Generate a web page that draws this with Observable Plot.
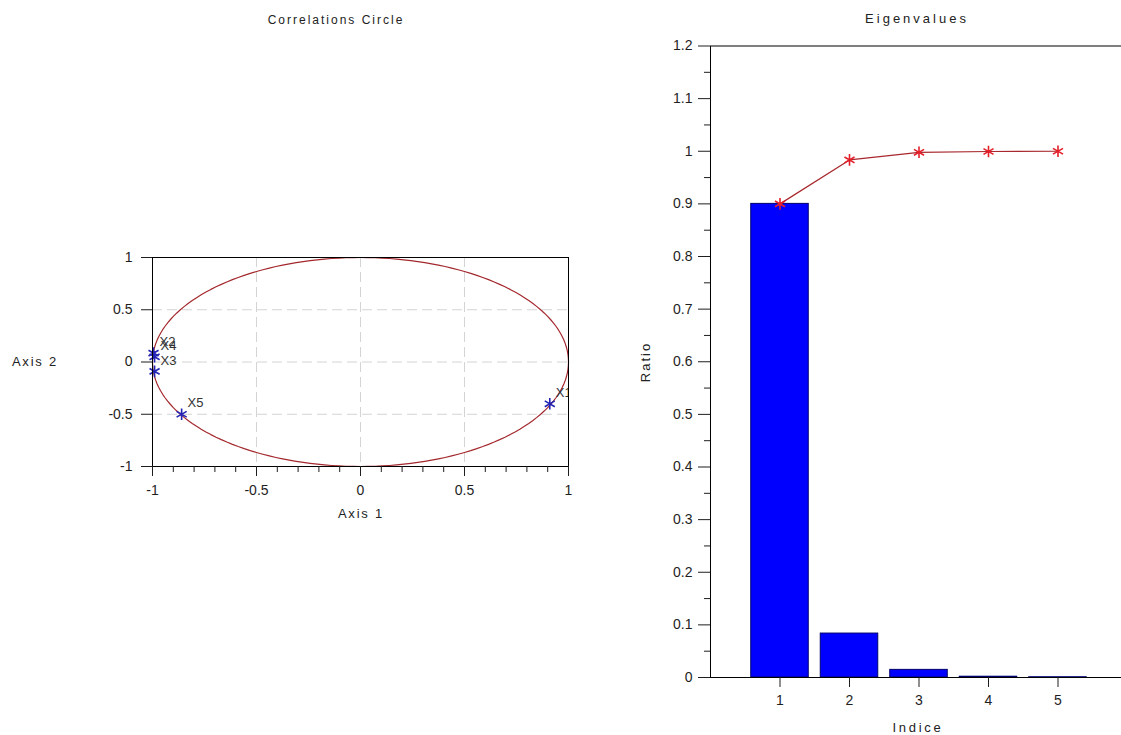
<!DOCTYPE html>
<html>
<head>
<meta charset="utf-8">
<script src="https://cdn.jsdelivr.net/npm/d3@7"></script>
<script src="https://cdn.jsdelivr.net/npm/@observablehq/plot@0.6"></script>
<style>
html, body { margin: 0; padding: 0; background: #fff; overflow: hidden; }
#root { position: relative; width: 1121px; height: 735px; overflow: hidden; font-family: "Liberation Sans", Arial, sans-serif; }
.lbl { position: absolute; white-space: nowrap; color: #222; font-size: 13px; line-height: 1; transform: translate(-50%, -50%); }
.panel { position: absolute; top: 0; }
.panel svg { max-width: none !important; }
</style>
</head>
<body>
<div id="root">
  <div id="p1" class="panel" style="left:0px;width:600px;"></div>
  <div id="p2" class="panel" style="left:600px;width:560px;"></div>
  <div class="lbl" style="left:336px;top:20px;font-size:12px;letter-spacing:2px;">Correlations Circle</div>
  <div class="lbl" style="left:917px;top:18px;letter-spacing:3px;">Eigenvalues</div>
  <div class="lbl" style="left:35px;top:361px;letter-spacing:1.8px;">Axis 2</div>
  <div class="lbl" style="left:361px;top:513px;letter-spacing:1.8px;">Axis 1</div>
  <div class="lbl" style="left:645px;top:362px;letter-spacing:2px;transform:translate(-50%,-50%) rotate(-90deg);">Ratio</div>
  <div class="lbl" style="left:918px;top:727px;letter-spacing:2.7px;">Indice</div>
</div>
<script>
// ---- Correlation circle data ----
const variables = ["X1", "X2", "X3", "X4", "X5"];
const axis1 = [0.91, -0.995, -0.99, -0.99, -0.86];
const axis2 = [-0.40, 0.085, -0.09, 0.05, -0.50];
const circleMajorTicks = [-1, -0.5, 0, 0.5, 1];
const circleMinorTicks = [-0.9, -0.8, -0.7, -0.6, -0.4, -0.3, -0.2, -0.1, 0.1, 0.2, 0.3, 0.4, 0.6, 0.7, 0.8, 0.9];
const circleGrid = [-0.5, 0, 0.5];

// ---- Eigenvalues data ----
const indices = [1, 2, 3, 4, 5];
const ratio = [0.900, 0.0835, 0.0145, 0.0015, 0.0005];
const cumulative = [0.900, 0.9835, 0.998, 0.9995, 1.000];
const ratioTicks = [0, 0.1, 0.2, 0.3, 0.4, 0.5, 0.6, 0.7, 0.8, 0.9, 1, 1.1, 1.2];
const ratioMinorTicks = [0.05, 0.15, 0.25, 0.35, 0.45, 0.55, 0.65, 0.75, 0.85, 0.95, 1.05, 1.15];
const indiceTicks = [1, 2, 3, 4, 5];

const points = variables.map((v, i) => ({name: v, a1: axis1[i], a2: axis2[i]}));
const unitCircle = d3.range(0, 361, 2).map(deg => ({x: Math.cos(deg * Math.PI / 180), y: Math.sin(deg * Math.PI / 180)}));
const eig = indices.map((k, i) => ({i: k, ratio: ratio[i], cum: cumulative[i]}));

const fmt = d => String(d);
const baseStyle = {fontFamily: '"Liberation Sans", Arial, sans-serif', fontSize: "14px", color: "#1e1e1e", background: "transparent", overflow: "visible", maxWidth: "none"};

const left = Plot.plot({
  width: 600, height: 530,
  marginLeft: 152, marginRight: 32, marginTop: 257, marginBottom: 64,
  x: {domain: [-1, 1]},
  y: {domain: [-1, 1]},
  style: baseStyle,
  marks: [
    Plot.ruleX(circleGrid, {stroke: "#d4d4d4", strokeDasharray: "10,5"}),
    Plot.ruleY(circleGrid, {stroke: "#d4d4d4", strokeDasharray: "10,5"}),
    Plot.line(unitCircle, {x: "x", y: "y", stroke: "#a3282d", strokeWidth: 1.2}),
    Plot.dot(points, {x: "a1", y: "a2", symbol: "asterisk", r: 5.5, stroke: "#2424b4", strokeWidth: 1.6}),
    Plot.text(points, {x: "a1", y: "a2", text: "name", dx: 6, dy: -11, textAnchor: "start", fill: "#333", fontSize: 13, clip: true}),
    Plot.frame({stroke: "#000"}),
    Plot.axisX(circleMajorTicks, {tickSize: 10, tickPadding: 9, tickFormat: fmt, label: null}),
    Plot.axisX(circleMinorTicks, {tickSize: 6, fill: "none", label: null}),
    Plot.axisY(circleMajorTicks, {tickSize: 11, tickPadding: 9, tickFormat: fmt, label: null})
  ]
});
document.getElementById("p1").appendChild(left);

const right = Plot.plot({
  width: 560, height: 735,
  marginLeft: 110, marginRight: 33, marginTop: 45.5, marginBottom: 58,
  x: {domain: [0, 6]},
  y: {domain: [0, 1.2]},
  style: baseStyle,
  marks: [
    Plot.rectY(eig, {x1: d => d.i - 0.5, x2: d => d.i + 0.5, y1: 0, y2: "ratio", insetLeft: 6, insetRight: 6, fill: "#0000ff", stroke: "#00006e", strokeWidth: 1}),
    Plot.line(eig, {x: "i", y: "cum", stroke: "#a8282d", strokeWidth: 1.2}),
    Plot.dot(eig, {x: "i", y: "cum", symbol: "asterisk", r: 5.5, stroke: "#e4202a", strokeWidth: 1.6}),
    Plot.frame({stroke: "#000"}),
    Plot.axisX(indiceTicks, {tickSize: 10, tickPadding: 8, tickFormat: fmt, label: null}),
    Plot.axisY(ratioTicks, {tickSize: 12, tickPadding: 6, tickFormat: fmt, label: null}),
    Plot.axisY(ratioMinorTicks, {tickSize: 6, fill: "none", label: null})
  ]
});
document.getElementById("p2").appendChild(right);
</script>
</body>
</html>
